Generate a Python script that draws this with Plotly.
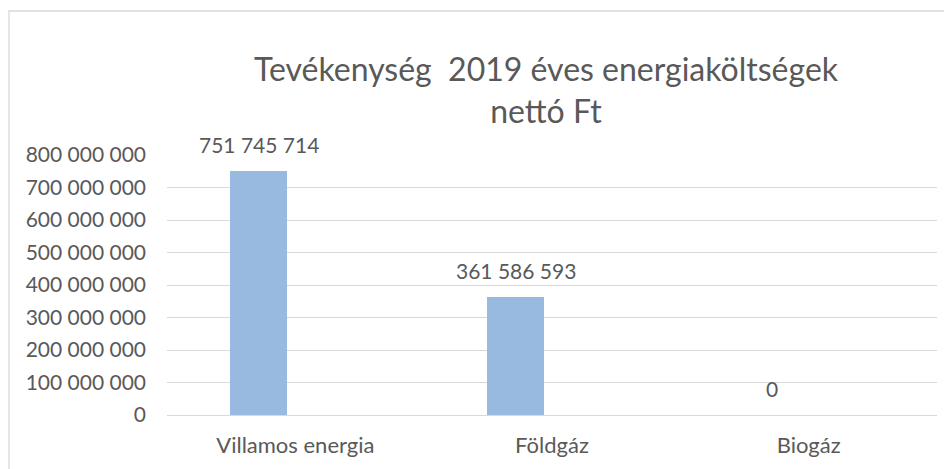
import plotly.graph_objects as go

categories = ["Villamos energia", "Földgáz", "Biogáz"]
values = [751745714, 361586593, 0]
tick_vals = [0, 100e6, 200e6, 300e6, 400e6, 500e6, 600e6, 700e6, 800e6]
tick_text = ["0", "100 000 000", "200 000 000", "300 000 000", "400 000 000",
             "500 000 000", "600 000 000", "700 000 000", "800 000 000"]
title_text = "Tevékenység  2019 éves energiaköltségek<br>nettó Ft"

def fmt(v):
    return f"{v:,}".replace(",", " ")

# page body has an 8px margin; figure coordinates are offset accordingly
W, H = 952, 469
ML, MR, MT, MB = 159, 23, 147, 62
pw, ph = W - ML - MR, H - MT - MB

FONT = "Lato, 'Open Sans', sans-serif"
TXT = "#595959"

BAR_W = 0.222
BAR_OFF = -0.253
cat_px = pw / len(categories)
label_xshift = (BAR_OFF + BAR_W / 2) * cat_px

fig = go.Figure()
fig.add_trace(go.Bar(
    x=categories, y=values,
    marker=dict(color="#98B9E0", line=dict(width=0)),
    width=BAR_W, offset=BAR_OFF,
    hoverinfo="skip",
))

for c, v in zip(categories, values):
    fig.add_annotation(x=c, y=v, text=fmt(v), showarrow=False,
                       xanchor="center", yanchor="bottom",
                       xshift=label_xshift, yshift=12,
                       font=dict(family=FONT, size=21, color=TXT))

def px_x(p):
    return (p - ML) / pw
def px_y(p):
    return (H - MB - p) / ph

# chart border (chart area outline)
fig.add_shape(type="rect", xref="paper", yref="paper",
              x0=px_x(1), x1=px_x(1200), y0=px_y(600), y1=px_y(3),
              line=dict(color="#D9D9D9", width=1.3), fillcolor="rgba(0,0,0,0)")

fig.update_layout(
    width=W, height=H,
    margin=dict(l=ML, r=MR, t=MT, b=MB),
    paper_bgcolor="white", plot_bgcolor="white",
    showlegend=False,
    title=dict(text=title_text, x=px_x(538), xref="paper", xanchor="center",
               y=1 - 73 / H, yanchor="top",
               font=dict(family=FONT, size=32, color=TXT)),
    xaxis=dict(showgrid=False, showline=False, ticks="",
               tickfont=dict(family=FONT, size=22, color=TXT),
               ticklabelstandoff=15),
    yaxis=dict(range=[0, 800e6], tickvals=tick_vals, ticktext=tick_text,
               showgrid=True, gridcolor="#D9D9D9", gridwidth=1.3,
               zeroline=True, zerolinecolor="#D9D9D9", zerolinewidth=1.3,
               showline=False, ticks="",
               tickfont=dict(family=FONT, size=21, color=TXT),
               ticklabelstandoff=20),
    bargap=0,
)

fig.write_html("out.html")
